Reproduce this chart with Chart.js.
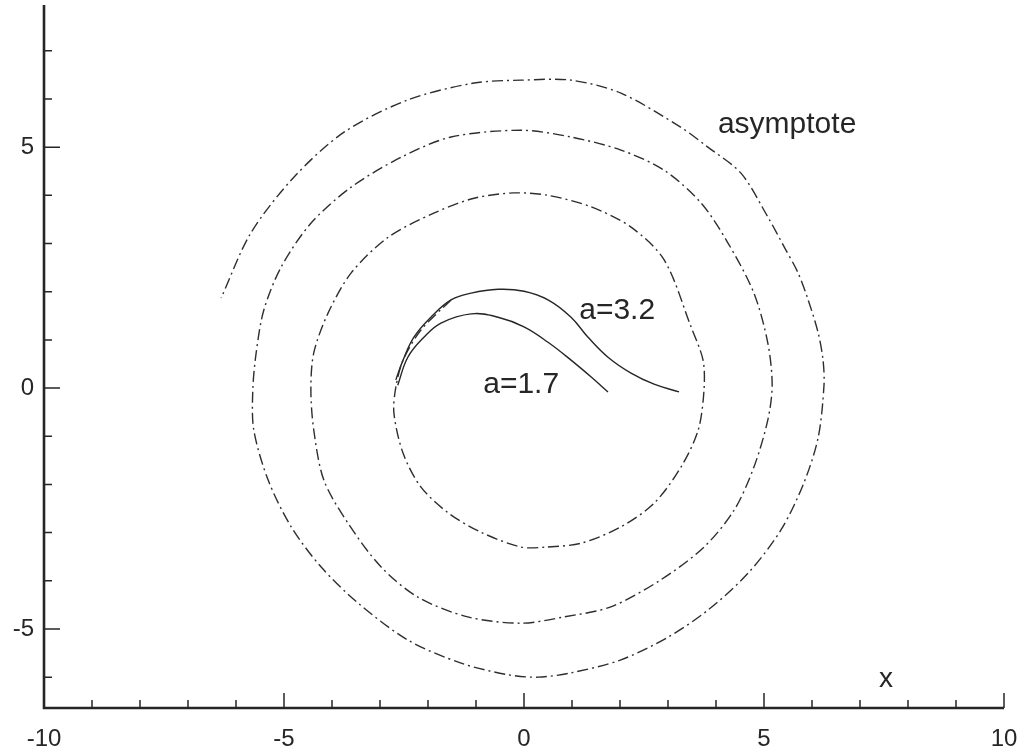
<!DOCTYPE html>
<html>
<head>
<meta charset="utf-8">
<script src="https://cdn.jsdelivr.net/npm/chart.js@4"></script>
<style>
  html, body { margin: 0; padding: 0; background: #fff; }
  canvas { display: block; }
</style>
</head>
<body>
<canvas id="chart" width="1025" height="756"></canvas>
<script>
// asymptote spiral (dash-dot)
const spiralX = [-1.52, -2.15, -2.52, -2.67, -2.71, -2.52, -2.15, -1.58, -0.90, -0.06, 0.46, 1.19, 2.02, 2.71, 3.27, 3.63, 3.75,
  3.73, 3.48, 2.92, 2.23, 1.40, 0.50, -0.21, -1.04, -1.88, -2.83, -3.60, -4.08, -4.38, -4.44, -4.38, -4.17, -3.67, -2.98,
  -2.21, -1.17, -0.06, 0.83, 1.81, 2.85, 3.75, 4.38, 4.79, 5.08, 5.17, 5.08, 4.79, 4.25, 3.69, 2.92, 2.02, 0.98, -0.06,
  -1.52, -2.56, -3.60, -4.44, -5.06, -5.42, -5.58, -5.65, -5.63, -5.33, -4.85, -4.23, -3.46, -2.42, -1.31, -0.33, 0.29,
  0.98, 2.02, 3.00, 3.83, 4.67, 5.35, 5.83, 6.13, 6.25, 6.23, 6.13, 5.92, 5.71, 5.42, 5.08, 4.52, 3.83, 3.27, 2.02, 0.98,
  -0.06, -1.04, -2.42, -3.75, -4.79, -5.69, -6.31];
const spiralY = [1.83, 1.20, 0.58, 0.02, -0.52, -1.35, -2.05, -2.59, -2.99, -3.30, -3.30, -3.22, -2.88, -2.39, -1.64, -0.87, -0.04,
  0.58, 1.27, 2.66, 3.34, 3.76, 4.00, 4.05, 3.94, 3.63, 3.13, 2.39, 1.56, 0.73, -0.04, -0.87, -1.91, -2.80, -3.71,
  -4.34, -4.75, -4.88, -4.75, -4.54, -3.98, -3.30, -2.53, -1.64, -0.66, 0.06, 0.93, 1.97, 3.01, 3.84, 4.52, 4.94, 5.21, 5.35,
  5.21, 4.79, 4.17, 3.42, 2.51, 1.62, 0.73, -0.04, -0.87, -1.91, -2.88, -3.71, -4.46, -5.23, -5.71, -5.95, -6.00,
  -5.91, -5.64, -5.17, -4.61, -3.84, -2.95, -1.97, -1.02, 0.06, 0.58, 1.14, 1.83, 2.39, 2.93, 3.55, 4.46, 5.00, 5.41, 6.12, 6.39,
  6.39, 6.33, 5.98, 5.31, 4.38, 3.22, 1.87];

// solid curves
const curveA32X = [-2.67, -2.52, -2.29, -1.94, -1.52, -1.10, -0.54, 0.00, 0.50, 0.98, 1.33, 1.75, 2.23, 2.71, 3.23];
const curveA32Y = [0.17, 0.58, 1.06, 1.47, 1.83, 1.97, 2.05, 2.01, 1.83, 1.47, 1.06, 0.64, 0.31, 0.08, -0.08];
const curveA17X = [-2.63, -2.42, -2.08, -1.73, -1.10, -0.54, 0.00, 0.50, 0.98, 1.40, 1.75];
const curveA17Y = [0.06, 0.64, 1.06, 1.35, 1.54, 1.47, 1.27, 0.95, 0.58, 0.23, -0.08];

// axes
const xTickLabels = [-10, -5, 0, 5, 10];
const yTickLabels = [-5, 0, 5];
const xMinor = [-9, -8, -7, -6, -4, -3, -2, -1, 1, 2, 3, 4, 6, 7, 8, 9];
const yMinor = [-6, -4, -3, -2, -1, 1, 2, 3, 4, 6, 7];

// text notes: [text, x, y(baseline)]
const notes = [
  ['asymptote', 4.04, 5.29],
  ['a=3.2', 1.15, 1.43],
  ['a=1.7', -0.85, -0.10]
];
const xAxisTitle = ['x', 7.54, -6.20];

const toPoints = (xs, ys) => xs.map((x, i) => ({ x: x, y: ys[i] }));

const FONT = '"Liberation Sans", Arial, Helvetica, sans-serif';
const INK = '#262626';

// draws the axis lines, inward ticks, labels and notes
const axesPlugin = {
  id: 'axesPlugin',
  afterDatasetsDraw(chart) {
    const ctx = chart.ctx;
    const xs = chart.scales.x;
    const ys = chart.scales.y;
    const x0 = xs.getPixelForValue(-10);
    const y0 = ys.getPixelForValue(ys.min);
    const yTop = ys.getPixelForValue(ys.max);
    const xRight = xs.getPixelForValue(10);

    ctx.save();
    ctx.strokeStyle = INK;
    ctx.fillStyle = INK;

    // axis lines
    ctx.lineWidth = 2.6;
    ctx.beginPath();
    ctx.moveTo(x0, yTop);
    ctx.lineTo(x0, y0);
    ctx.lineTo(xRight, y0);
    ctx.stroke();

    // ticks
    ctx.lineWidth = 1.5;
    ctx.beginPath();
    xTickLabels.forEach(v => {
      if (v === -10) return;
      const px = xs.getPixelForValue(v);
      ctx.moveTo(px, y0);
      ctx.lineTo(px, y0 - 15);
    });
    xMinor.forEach(v => {
      const px = xs.getPixelForValue(v);
      ctx.moveTo(px, y0);
      ctx.lineTo(px, y0 - 8);
    });
    yTickLabels.forEach(v => {
      const py = ys.getPixelForValue(v);
      ctx.moveTo(x0, py);
      ctx.lineTo(x0 + 16, py);
    });
    yMinor.forEach(v => {
      const py = ys.getPixelForValue(v);
      ctx.moveTo(x0, py);
      ctx.lineTo(x0 + 8, py);
    });
    ctx.stroke();

    // tick labels
    ctx.font = '24px ' + FONT;
    ctx.textAlign = 'center';
    ctx.textBaseline = 'alphabetic';
    xTickLabels.forEach(v => {
      ctx.fillText(String(v), xs.getPixelForValue(v), 746);
    });
    ctx.textAlign = 'right';
    ctx.textBaseline = 'middle';
    yTickLabels.forEach(v => {
      ctx.fillText(String(v), 34, ys.getPixelForValue(v));
    });

    // notes
    ctx.font = '30px ' + FONT;
    ctx.textAlign = 'left';
    ctx.textBaseline = 'alphabetic';
    notes.forEach(([t, x, y]) => {
      ctx.fillText(t, xs.getPixelForValue(x), ys.getPixelForValue(y));
    });
    ctx.font = '28px ' + FONT;
    ctx.textAlign = 'center';
    ctx.fillText(xAxisTitle[0], xs.getPixelForValue(xAxisTitle[1]), ys.getPixelForValue(xAxisTitle[2]));

    ctx.restore();
  }
};

const ctx = document.getElementById('chart').getContext('2d');
new Chart(ctx, {
  type: 'scatter',
  data: {
    datasets: [
      {
        label: 'asymptote',
        data: toPoints(spiralX, spiralY),
        showLine: true,
        borderColor: '#2e2e2e',
        borderWidth: 1.4,
        borderDash: [11, 4, 2, 4],
        pointRadius: 0,
        tension: 0.3
      },
      {
        label: 'a=3.2',
        data: toPoints(curveA32X, curveA32Y),
        showLine: true,
        borderColor: '#262626',
        borderWidth: 1.4,
        pointRadius: 0,
        tension: 0.4
      },
      {
        label: 'a=1.7',
        data: toPoints(curveA17X, curveA17Y),
        showLine: true,
        borderColor: '#262626',
        borderWidth: 1.4,
        pointRadius: 0,
        tension: 0.4
      }
    ]
  },
  options: {
    responsive: false,
    animation: false,
    devicePixelRatio: 1,
    layout: { padding: { left: 44, right: 21, top: 5, bottom: 48 } },
    plugins: { legend: { display: false }, tooltip: { enabled: false } },
    scales: {
      x: { type: 'linear', min: -10, max: 10, display: false },
      y: { type: 'linear', min: -6.64, max: 7.95, display: false }
    }
  },
  plugins: [axesPlugin]
});
</script>
</body>
</html>
